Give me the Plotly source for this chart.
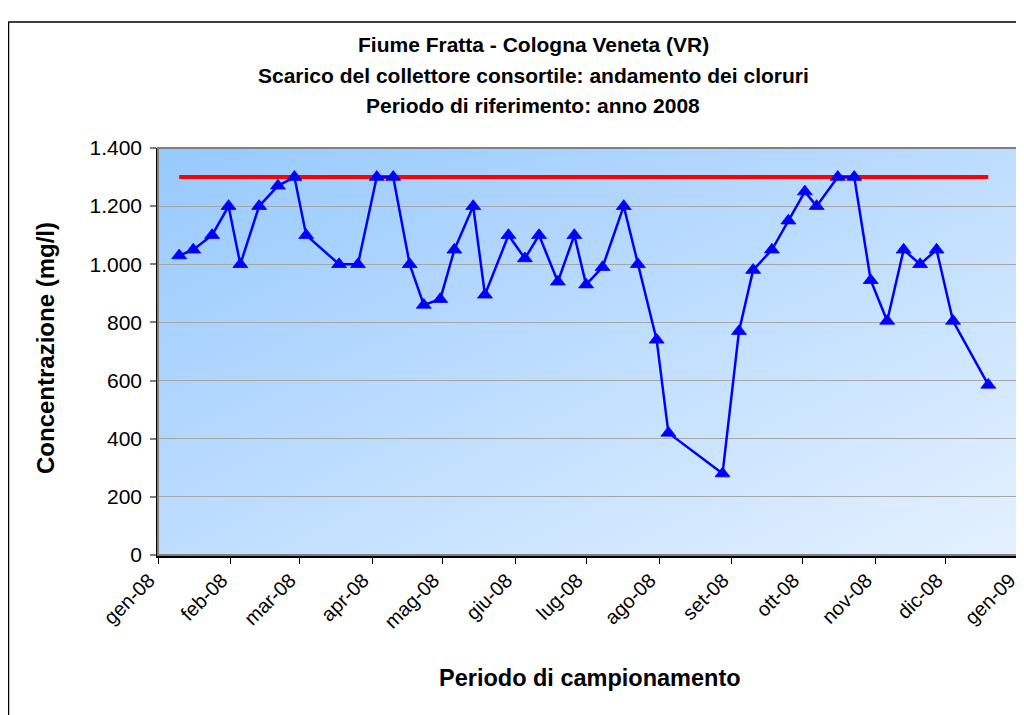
import base64
import plotly.graph_objects as go

# ---------------- data ----------------
dates = [
    "2008-01-10", "2008-01-16", "2008-01-24", "2008-01-31", "2008-02-05", "2008-02-13",
    "2008-02-21", "2008-02-28", "2008-03-04", "2008-03-18", "2008-03-26", "2008-04-03",
    "2008-04-10", "2008-04-17", "2008-04-23", "2008-04-30", "2008-05-06", "2008-05-14",
    "2008-05-19", "2008-05-29", "2008-06-05", "2008-06-11", "2008-06-19", "2008-06-26",
    "2008-07-01", "2008-07-08", "2008-07-17", "2008-07-23", "2008-07-31", "2008-08-05",
    "2008-08-28", "2008-09-04", "2008-09-10", "2008-09-18", "2008-09-25", "2008-10-02",
    "2008-10-07", "2008-10-16", "2008-10-23", "2008-10-30", "2008-11-06", "2008-11-13",
    "2008-11-20", "2008-11-27", "2008-12-04", "2008-12-19",
]
cloruri = [
    1030, 1050, 1100, 1200, 1000, 1200,
    1270, 1300, 1100, 1000, 1000, 1300,
    1300, 1000, 860, 880, 1050, 1200,
    895, 1100, 1020, 1100, 940, 1100,
    930, 990, 1200, 1000, 740, 420,
    280, 770, 980, 1050, 1150, 1250,
    1200, 1300, 1300, 945, 805, 1050,
    1000, 1050, 805, 585,
]
limite = [1300] * len(dates)

tick_vals = [
    "2008-01-01", "2008-02-01", "2008-03-01", "2008-04-01", "2008-05-01", "2008-06-01",
    "2008-07-01", "2008-08-01", "2008-09-01", "2008-10-01", "2008-11-01", "2008-12-01",
    "2009-01-01",
]
tick_text = ["gen-08", "feb-08", "mar-08", "apr-08", "mag-08", "giu-08", "lug-08",
             "ago-08", "set-08", "ott-08", "nov-08", "dic-08", "gen-09"]
y_ticks = [0, 200, 400, 600, 800, 1000, 1200, 1400]

title_lines = [
    "Fiume Fratta - Cologna Veneta (VR)",
    "Scarico del collettore consortile: andamento dei cloruri",
    "Periodo di riferimento: anno 2008",
]
x_title = "Periodo di campionamento"
y_title = "Concentrazione (mg/l)"

# ---------------- layout geometry ----------------
# The page body has an 8px margin, so page pixel = figure pixel + 8
OFF = 8
W, H = 1016, 707
L, R, T, B = 150, 5, 140, 160
PW, PH = W - L - R, H - T - B


def px(xpage):
    return (xpage - OFF - L) / PW


def py(ypage):
    return (H - B - (ypage - OFF)) / PH


FONT = "Liberation Sans, Arial, sans-serif"

svg = (
    '<svg xmlns="http://www.w3.org/2000/svg" width="400" height="200" preserveAspectRatio="none">'
    '<defs><linearGradient id="g" x1="0" y1="0" x2="1" y2="1">'
    '<stop offset="0" stop-color="#97C9FE"/><stop offset="1" stop-color="#E4F1FF"/>'
    '</linearGradient></defs><rect width="400" height="200" fill="url(#g)"/></svg>'
)
bg_src = "data:image/svg+xml;base64," + base64.b64encode(svg.encode()).decode()

fig = go.Figure()
fig.add_trace(go.Scatter(
    x=dates, y=limite, mode="lines",
    line=dict(color="#FF0000", width=4), hoverinfo="skip", showlegend=False,
))
fig.add_trace(go.Scatter(
    x=dates, y=cloruri, mode="lines+markers",
    line=dict(color="#0000FF", width=2.5),
    marker=dict(symbol="triangle-up", size=13, color="#0000FF",
                line=dict(color="#0000FF", width=0.8)),
    showlegend=False,
))

annotations = []
for txt, ypix in zip(title_lines, [45, 75, 106]):
    annotations.append(dict(
        text="<b>%s</b>" % txt, x=px(533), y=py(ypix), xref="paper", yref="paper",
        xanchor="center", yanchor="middle", showarrow=False,
        font=dict(family=FONT, size=21, color="black"),
    ))
annotations.append(dict(
    text="<b>%s</b>" % x_title, x=px(590), y=py(678), xref="paper", yref="paper",
    xanchor="center", yanchor="middle", showarrow=False,
    font=dict(family=FONT, size=23.5, color="black"),
))
annotations.append(dict(
    text="<b>%s</b>" % y_title, x=px(45), y=py(348), xref="paper", yref="paper",
    xanchor="center", yanchor="middle", showarrow=False, textangle=-90,
    font=dict(family=FONT, size=24, color="black"),
))

shapes = [
    # outer chart border
    dict(type="rect", xref="paper", yref="paper", x0=px(8.5), x1=px(1021), y0=py(730), y1=py(22),
         line=dict(color="#000000", width=1.5), layer="below"),
    # plot area border
    dict(type="rect", xref="paper", yref="paper", x0=0, x1=1, y0=0, y1=1,
         line=dict(color="#808080", width=2), layer="above"),
]

fig.update_layout(
    width=W, height=H,
    margin=dict(l=L, r=R, t=T, b=B, pad=0),
    paper_bgcolor="white", plot_bgcolor="rgba(0,0,0,0)",
    separators=",.",
    font=dict(family=FONT, color="black"),
    annotations=annotations, shapes=shapes,
    images=[dict(source=bg_src, xref="paper", yref="paper", x=0, y=1, sizex=1, sizey=1,
                 sizing="stretch", xanchor="left", yanchor="top", layer="below")],
    hovermode=False,
)
fig.update_xaxes(
    type="date", range=["2008-01-01", "2009-01-01 01:00"],
    tickvals=tick_vals, ticktext=tick_text, tickangle=-45,
    tickfont=dict(family=FONT, size=20, color="black"),
    ticks="outside", ticklen=6, tickcolor="black", tickwidth=1,
    ticklabelstandoff=-3, ticklabelshift=-9, ticklabeloverflow="allow",
    showline=True, linecolor="black", linewidth=2.5,
    showgrid=False, zeroline=False,
)
fig.update_yaxes(
    range=[0, 1400], tickvals=y_ticks, tickformat=",d",
    tickfont=dict(family=FONT, size=21, color="black"),
    ticks="outside", ticklen=6, tickcolor="#808080", tickwidth=1.5,
    ticklabelstandoff=4,
    showline=True, linecolor="black", linewidth=1.5,
    showgrid=True, gridcolor="#A6A6A6", gridwidth=1.2, zeroline=False,
)

fig.write_html("out.html")
